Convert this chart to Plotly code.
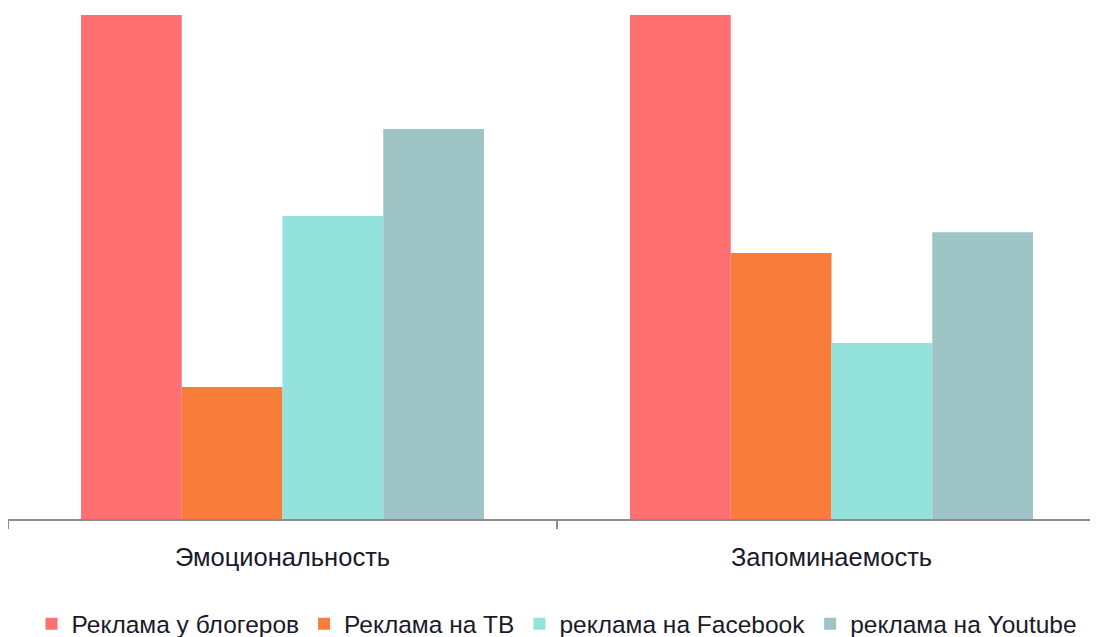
import plotly.graph_objects as go

categories = ["Эмоциональность", "Запоминаемость"]
series_names = ["Реклама у блогеров", "Реклама на ТВ", "реклама на Facebook", "реклама на Youtube"]
colors = ["#FE7072", "#F87C3A", "#93E3DC", "#9FC4C6"]
values = {
    "Реклама у блогеров": [100, 100],
    "Реклама на ТВ": [26.2, 52.8],
    "реклама на Facebook": [60.1, 34.9],
    "реклама на Youtube": [77.4, 56.9],
}

fig = go.Figure()
for name, col in zip(series_names, colors):
    fig.add_trace(go.Bar(x=categories, y=values[name], name=name,
                         marker=dict(color=col, line=dict(width=0))))

W, H = 1098, 637
fig.update_layout(
    width=W, height=H,
    margin=dict(l=0, r=0, t=7, b=126, pad=0, autoexpand=False),
    paper_bgcolor="white", plot_bgcolor="white",
    barmode="group", bargap=0.266, bargroupgap=0,
    font=dict(family="Liberation Sans, Arial, sans-serif", color="#1a1a2a"),
    xaxis=dict(type="category", range=[-0.5, 1.5],
               showline=True, linecolor="#8c8c8c", linewidth=1.5,
               ticks="outside", tickson="boundaries", ticklen=8, tickcolor="#8c8c8c",
               tickwidth=1.5, tickfont=dict(size=25.5), ticklabelstandoff=15,
               showgrid=False, automargin=False),
    yaxis=dict(range=[0, 100], visible=False, showgrid=False),
    legend=dict(orientation="h", x=0.5, xanchor="center", y=-0.208, yanchor="middle",
                font=dict(size=24.5), itemwidth=30, traceorder="normal",
                tracegroupgap=0),
    showlegend=True,
)
fig.write_html("out.html")
